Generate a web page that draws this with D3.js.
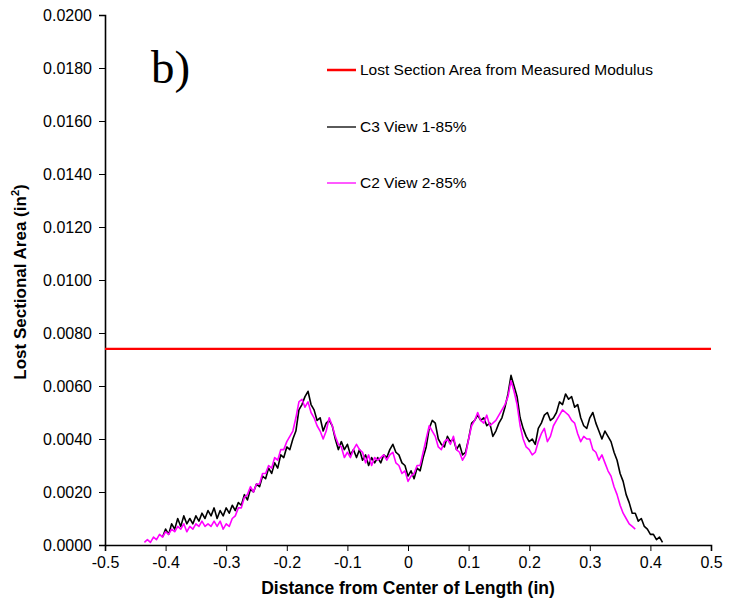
<!DOCTYPE html>
<html><head><meta charset="utf-8">
<script src="https://cdn.jsdelivr.net/npm/d3@7"></script>
<style>body{margin:0;background:#fff}svg{display:block}</style>
</head><body><svg id="c" width="739" height="600"></svg>
<script>
// ---- data ----
const xTicks = [-0.5,-0.4,-0.3,-0.2,-0.1,0,0.1,0.2,0.3,0.4,0.5];
const xTickLabels = ["-0.5","-0.4","-0.3","-0.2","-0.1","0","0.1","0.2","0.3","0.4","0.5"];
const yTicks = [0,0.002,0.004,0.006,0.008,0.010,0.012,0.014,0.016,0.018,0.020];
const yTickLabels = ["0.0000","0.0020","0.0040","0.0060","0.0080","0.0100","0.0120","0.0140","0.0160","0.0180","0.0200"];
const seriesNames = ["Lost Section Area from Measured Modulus","C3 View 1-85%","C2 View 2-85%"];
const measuredModulusArea = 0.0074;
// C3 View 1-85%: x from -0.405 in steps of 0.005
const c3Start = -0.405, c3Step = 0.005;
const c3Values = [
0.0003,0.0006,0.0004,0.0008,0.0006,0.0010,0.0007,0.0011,0.0008,0.0010,
0.0008,0.0011,0.0009,0.0012,0.0010,0.0013,0.0011,0.0014,0.0010,0.0013,
0.0011,0.0014,0.0012,0.0015,0.0013,0.0016,0.0015,0.0019,0.0017,0.0021,
0.0020,0.0023,0.0022,0.0026,0.0025,0.0029,0.0027,0.0031,0.0029,0.0034,
0.0033,0.0037,0.0036,0.0040,0.0043,0.0051,0.0053,0.0056,0.0058,0.0053,
0.0051,0.0047,0.0048,0.0043,0.0046,0.0047,0.0045,0.0040,0.0036,0.0039,
0.0036,0.0038,0.0034,0.0036,0.0033,0.0036,0.0032,0.0034,0.0030,0.0033,
0.0031,0.0033,0.0031,0.0034,0.0033,0.0036,0.0038,0.0035,0.0034,0.0031,
0.0030,0.0026,0.0028,0.0025,0.0029,0.0028,0.0033,0.0037,0.0044,0.0047,
0.0046,0.0040,0.0038,0.0037,0.0041,0.0039,0.0040,0.0036,0.0038,0.0034,
0.0035,0.0040,0.0046,0.0047,0.0049,0.0047,0.0048,0.0045,0.0046,0.0041,
0.0043,0.0046,0.0048,0.0052,0.0057,0.0064,0.0060,0.0056,0.0048,0.0044,
0.0041,0.0039,0.0040,0.0038,0.0044,0.0046,0.0049,0.0050,0.0047,0.0048,
0.0050,0.0054,0.0053,0.0057,0.0055,0.0056,0.0052,0.0053,0.0048,0.0045,
0.0044,0.0048,0.0050,0.0046,0.0043,0.0040,0.0043,0.0041,0.0039,0.0035,
0.0032,0.0027,0.0024,0.0019,0.0016,0.0012,0.0012,0.0009,0.0010,0.0007,
0.0006,0.0004,0.0004,0.0002,0.0003,0.0001];
// C2 View 2-85%: x from -0.435 in steps of 0.005
const c2Start = -0.435, c2Step = 0.005;
const c2Values = [
0.0001,0.0002,0.0001,0.0003,0.0002,0.0004,0.0003,0.0005,0.0004,0.0006,
0.0005,0.0007,0.0006,0.0008,0.0005,0.0007,0.0006,0.0008,0.0007,0.0009,
0.0007,0.0008,0.0007,0.0009,0.0007,0.0009,0.0006,0.0008,0.0007,0.0010,
0.0011,0.0014,0.0014,0.0018,0.0019,0.0022,0.0020,0.0023,0.0023,0.0027,
0.0027,0.0030,0.0029,0.0033,0.0032,0.0036,0.0036,0.0039,0.0041,0.0043,
0.0048,0.0054,0.0055,0.0052,0.0054,0.0050,0.0048,0.0045,0.0043,0.0040,
0.0043,0.0048,0.0045,0.0041,0.0038,0.0037,0.0033,0.0035,0.0033,0.0036,
0.0038,0.0036,0.0035,0.0031,0.0034,0.0030,0.0033,0.0032,0.0033,0.0034,
0.0032,0.0034,0.0035,0.0031,0.0030,0.0027,0.0028,0.0024,0.0026,0.0027,
0.0030,0.0030,0.0035,0.0040,0.0045,0.0043,0.0041,0.0037,0.0036,0.0039,
0.0040,0.0038,0.0041,0.0036,0.0035,0.0032,0.0034,0.0040,0.0045,0.0047,
0.0050,0.0047,0.0046,0.0049,0.0045,0.0046,0.0047,0.0049,0.0051,0.0053,
0.0056,0.0062,0.0058,0.0053,0.0045,0.0040,0.0037,0.0036,0.0034,0.0035,
0.0039,0.0042,0.0044,0.0039,0.0041,0.0045,0.0047,0.0049,0.0051,0.0050,
0.0049,0.0047,0.0046,0.0042,0.0039,0.0041,0.0040,0.0040,0.0036,0.0035,
0.0032,0.0034,0.0031,0.0028,0.0026,0.0022,0.0019,0.0015,0.0012,0.0010,
0.0008,0.0007,0.0006];
const colors = ["#ff0000","#000000","#ff00ff"];

// ---- drawing ----
const svg = d3.select("#c");
const L = 105, R = 711, T = 15, B = 545;
const x = d3.scaleLinear().domain([-0.5,0.5]).range([L,R]);
const y = d3.scaleLinear().domain([0,0.02]).range([B,T]);
const font = "Arial, 'Liberation Sans', Helvetica, sans-serif";

const toPts = (start, step, vals) => vals.map((v,i)=>[+(start+i*step).toFixed(4), v]);
const line = d3.line().x(d=>x(d[0])).y(d=>y(d[1]));

// axes
const xa = svg.append("g").attr("transform",`translate(0,${B})`)
  .call(d3.axisBottom(x).tickValues(xTicks).tickFormat((d,i)=>xTickLabels[i]).tickSizeOuter(0).tickSize(6).tickPadding(6));
const ya = svg.append("g").attr("transform",`translate(${L},0)`)
  .call(d3.axisLeft(y).tickValues(yTicks).tickFormat((d,i)=>yTickLabels[i]).tickSizeOuter(0).tickSize(6).tickPadding(7));
[xa,ya].forEach(g=>{
  g.select(".domain").attr("stroke","#000").attr("stroke-width",1.6);
  g.selectAll(".tick line").attr("stroke","#000").attr("stroke-width",1);
  g.selectAll(".tick text").attr("font-family",font).attr("font-size","16px").attr("fill","#000");
});

// series
svg.append("path").datum(toPts(c3Start,c3Step,c3Values)).attr("d",line)
  .attr("fill","none").attr("stroke",colors[1]).attr("stroke-width",1.6).attr("stroke-linejoin","round");
svg.append("path").datum(toPts(c2Start,c2Step,c2Values)).attr("d",line)
  .attr("fill","none").attr("stroke",colors[2]).attr("stroke-width",1.6).attr("stroke-linejoin","round");
svg.append("line").attr("x1",x(-0.5)).attr("x2",x(0.5)).attr("y1",y(measuredModulusArea)).attr("y2",y(measuredModulusArea))
  .attr("stroke",colors[0]).attr("stroke-width",2.2);

// legend
const legY = [70,127,183], legW = [2.5,1.3,1.3];
seriesNames.forEach((n,i)=>{
  svg.append("line").attr("x1",327).attr("x2",356).attr("y1",legY[i]).attr("y2",legY[i])
    .attr("stroke",colors[i]).attr("stroke-width",legW[i]);
  svg.append("text").attr("x",360).attr("y",legY[i]+5).attr("font-family",font).attr("font-size","15.5px").text(n);
});

// panel label
svg.append("text").attr("x",151).attr("y",83).attr("font-family","'Liberation Serif','Times New Roman',serif")
  .attr("font-size","47px").text("b)");

// axis titles
svg.append("text").attr("x",(L+R)/2).attr("y",594).attr("text-anchor","middle")
  .attr("font-family",font).attr("font-size","17.5px").attr("font-weight","bold").text("Distance from Center of Length (in)");
const yt = svg.append("text").attr("transform","translate(26,282) rotate(-90)").attr("text-anchor","middle")
  .attr("font-family",font).attr("font-size","17px").attr("font-weight","bold");
yt.append("tspan").text("Lost Sectional Area (in");
yt.append("tspan").attr("dy",-7).attr("font-size","11px").text("2");
yt.append("tspan").attr("dy",7).text(")");
</script></body></html>
